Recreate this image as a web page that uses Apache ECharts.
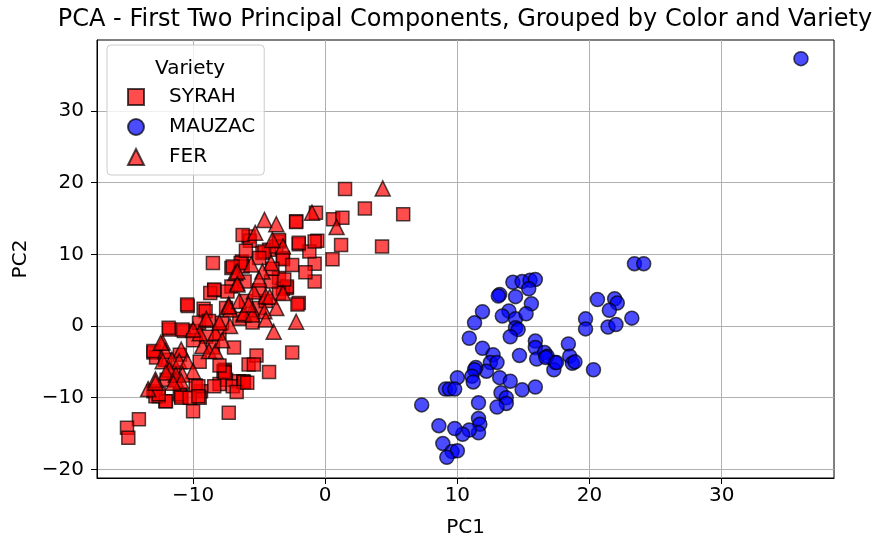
<!DOCTYPE html>
<html>
<head>
<meta charset="utf-8">
<script src="https://cdn.jsdelivr.net/npm/echarts@6/dist/echarts.min.js"></script>
<style>
html,body{margin:0;padding:0;background:#fff;}
#chart{width:875px;height:541px;}
</style>
</head>
<body>
<div id="chart"></div>
<script>
// PCA scores (PC1, PC2) per variety
const syrah = [
  [1.5,19.1],[3.0,16.4],[5.9,15.6],[0.6,14.9],[1.3,15.1],[-0.7,15.8],[-2.2,14.6],[1.2,11.3],[4.3,11.1],
  [-0.6,11.9],[0.55,9.3],[-0.8,8.7],[-0.8,6.2],[-2.0,3.2],[-5.8,12.5],[-5.7,11.9],[-3.5,11.8],[-2.0,11.4],
  [-1.2,10.4],[-3.2,9.5],[-4.25,10.65],[-4.75,10.2],[-6.3,9.0],[-3.5,6.7],[-2.9,5.3],[-3.2,5.2],[-8.5,8.8],
  [-8.4,5.0],[-7.1,8.1],[-6.25,8.3],[-6.25,12.7],[-7.1,5.5],[-10.4,2.8],[-9.2,2.4],[-11.8,-0.5],[-10.7,-0.7],
  [-9.8,-0.7],[-13.0,-3.7],[-12.8,-4.4],[-12.1,-4.7],[-7.6,-6.1],[-7.5,-7.5],[-8.0,-8.1],[-8.4,-8.4],
  [-9.4,-9.1],[-10.9,-9.8],[-12.1,-10.5],[-12.6,-9.8],[-9.5,-10.0],[-10.0,-11.9],[-7.3,-12.1],[-14.1,-13.0],
  [-15.0,-14.2],[-14.9,-15.6],[-9.8,-8.3],[-6.55,-7.7],[-8.7,4.6],[-7.4,4.8],[-10.45,3.0],[-9.05,2.05],
  [-11.85,-0.25],[-10.8,-0.5],[-9.55,0.45],[-8.8,0.7],[-7.8,0.45],[-13.0,-3.5],[-6.9,-3.0],[-5.8,-5.35],
  [-7.7,-6.3],[-7.0,-8.4],[-6.2,-7.7],[-9.6,-8.4],[-11.0,-9.5],[-13.0,-9.1],[-12.85,-9.8],[-2.1,3.0],
  [-2.9,5.5],[-3.5,4.6],[-4.1,6.2],[-6.1,6.2],[-6.4,8.8],[-2.5,-3.7],[-5.2,-4.1],[-5.4,-5.35],[-4.25,-6.4],
  [-6.15,-7.8],[-6.7,-9.2],[-2.2,14.5],[-2.0,11.6],[-0.8,11.8],[-4.6,10.4],[-3.7,11.1],[-3.5,12.0],
  [-7.0,8.3],[-3.2,9.3],[-8.4,5.1],[-3.1,6.5],[-10.9,-10.0],[-12.05,-10.5],[-10.25,-10.0],[-9.6,-9.8],
  [-7.6,-6.5],[-5.9,-7.9],[-12.6,-9.5],[-6.0,3.5],[-5.0,2.5],[-4.5,3.5],[-6.5,1.0],[-5.5,0.5],[-7.5,2.5],
  [-8.0,-1.0],[-9.0,-1.5],[-8.5,-3.0],[-10.0,-2.0],[-11.0,-4.0],[-9.5,-5.0],[-8.0,-5.5],[-11.5,-6.5],
  [-12.0,-7.5],[-5.0,5.0],[-4.0,8.0],[-5.0,9.5],[-6.0,10.5],[-2.5,8.5],[-1.5,7.5]
];
const mauzac = [
  [14.2,6.1],[14.9,6.2],[15.5,6.4],[15.9,6.5],[15.4,5.2],[13.2,4.4],[13.1,4.2],[14.4,4.1],[15.6,3.1],
  [11.9,2.0],[13.9,2.1],[13.4,1.4],[14.4,1.0],[15.2,1.7],[11.3,0.45],[14.4,-0.25],[14.6,-0.5],[14.0,-1.5],
  [10.9,-1.7],[15.9,-2.1],[15.9,-3.0],[11.9,-3.1],[12.7,-4.0],[14.7,-4.1],[16.0,-4.6],[16.6,-3.7],
  [16.8,-4.2],[17.4,-5.1],[17.3,-6.1],[12.5,-5.1],[13.0,-5.1],[12.2,-6.3],[11.4,-5.8],[11.3,-6.1],
  [11.1,-7.0],[11.2,-7.8],[10.0,-7.2],[9.1,-8.8],[9.4,-8.8],[9.8,-8.8],[13.2,-7.2],[14.0,-7.7],[14.9,-8.9],
  [15.9,-8.5],[13.3,-9.3],[13.7,-10.0],[13.7,-10.8],[13.0,-11.3],[7.3,-11.0],[11.6,-10.7],[11.6,-12.9],
  [11.7,-13.7],[11.6,-14.9],[10.9,-14.5],[10.4,-15.1],[9.8,-14.3],[8.6,-13.9],[8.9,-16.4],[9.6,-17.5],
  [10.0,-17.4],[9.2,-18.3],[23.4,8.7],[24.1,8.7],[20.6,3.7],[21.9,3.8],[22.1,3.2],[21.5,2.2],[23.2,1.1],
  [19.7,1.0],[19.7,-0.4],[21.4,-0.15],[22.0,0.2],[18.4,-2.5],[16.7,-4.4],[17.5,-5.1],[18.5,-4.2],
  [18.7,-5.2],[18.9,-5.0],[20.3,-6.1],[36.0,37.3]
];
const fer = [
  [4.35,19.2],[-1.0,15.8],[-4.6,14.8],[-3.7,14.2],[0.86,13.8],[-3.2,11.1],[-4.1,8.8],[-5.6,8.6],[-4.75,7.6],
  [-5.4,4.8],[-3.2,4.6],[-4.5,4.15],[-6.8,7.4],[-6.65,6.0],[-6.65,7.6],[-6.65,5.8],[-7.3,3.0],[-12.3,-2.3],
  [-10.9,-3.3],[-12.1,-3.5],[-11.6,-4.7],[-13.4,-8.8],[-12.45,-2.35],[-9.3,-2.8],[-8.8,-3.5],[-8.3,-3.5],
  [-12.3,-4.9],[-11.05,-4.9],[-10.45,-4.9],[-11.8,-6.05],[-10.0,-6.3],[-12.85,-7.45],[-11.3,-7.45],
  [-10.8,-6.75],[-8.3,-0.95],[-7.2,2.3],[-7.2,0.0],[-6.2,1.6],[-5.5,2.3],[-2.2,0.6],[-3.9,-0.8],[-4.2,4.1],
  [-3.7,2.5],[-4.6,2.05],[-6.15,1.8],[-5.5,1.6],[-4.5,0.9],[-12.05,-6.5],[-11.3,-6.8],[-10.9,-7.7],
  [-11.5,-7.9],[-12.85,-7.9],[-7.3,2.75],[-6.5,3.5],[-5.8,3.0],[-9.0,1.0],[-8.0,0.5],[-9.5,-1.0],
  [-7.8,-2.0],[-10.0,-0.5],[-5.0,6.5],[-4.0,12.0],[-5.3,13.0]
];
const tickValuesX = [-10, 0, 10, 20, 30];
const tickValuesY = [-20, -10, 0, 10, 20, 30];

const FONT = 'DejaVu Sans';
const fmt = v => String(v).replace('-', '\u2212');

function axisCommon(name, ticks, nameGap, rotate, labelMargin) {
  return {
    type: 'value',
    name: name,
    nameLocation: 'middle',
    nameGap: nameGap,
    nameRotate: rotate,
    nameTextStyle: { fontFamily: FONT, fontSize: 20, color: '#000' },
    axisLine: { show: true, onZero: false, lineStyle: { color: '#000', width: 1 } },
    axisTick: { show: true, inside: false, length: 6, customValues: ticks, lineStyle: { color: '#000' } },
    axisLabel: { customValues: ticks, formatter: fmt, fontFamily: FONT, fontSize: 20, color: '#000', margin: labelMargin },
    splitLine: { show: true, lineStyle: { color: '#b0b0b0', width: 1 } }
  };
}

function scatter(name, data, symbol, size, color) {
  return {
    name: name,
    type: 'scatter',
    data: data,
    symbol: symbol,
    symbolSize: size,
    itemStyle: { color: color, opacity: 0.7, borderColor: '#000', borderWidth: 1.5 },
    emphasis: { disabled: true }
  };
}

const chart = echarts.init(document.getElementById('chart'), null, { renderer: 'canvas' });
chart.setOption({
  animation: false,
  backgroundColor: '#fff',
  title: [
    { text: 'PCA - First Two Principal Components, Grouped by Color and Variety', left: 460, top: 3,
      textAlign: 'center', textStyle: { fontFamily: FONT, fontSize: 24, fontWeight: 'normal', color: '#000' } },
    { text: 'Variety', left: 150, top: 54,
      textStyle: { fontFamily: FONT, fontSize: 20, fontWeight: 'normal', color: '#000' } }
  ],
  grid: { left: 97, right: 41, top: 40, bottom: 63, show: true, borderColor: '#000', borderWidth: 1,
          containLabel: false, outerBoundsMode: 'none' },
  xAxis: Object.assign(axisCommon('PC1', tickValuesX, 40, 0, 8), { min: -17.27, max: 38.5 }),
  yAxis: Object.assign(axisCommon('PC2', tickValuesY, 66, 90, 13), { min: -21.2, max: 39.9 }),
  legend: {
    orient: 'vertical', left: 107, top: 45,
    padding: [42, 9, 8, 20],
    itemWidth: 16, itemHeight: 16, itemGap: 10,
    backgroundColor: 'rgba(255,255,255,0.8)',
    borderColor: '#cccccc', borderWidth: 1, borderRadius: 4,
    textStyle: { fontFamily: FONT, fontSize: 20, color: '#000', padding: [0, 0, 0, 20] },
    data: [
      { name: 'SYRAH', icon: 'rect' },
      { name: 'MAUZAC', icon: 'circle' },
      { name: 'FER', icon: 'triangle' }
    ]
  },
  series: [
    scatter('SYRAH', syrah, 'rect', 13, 'rgb(255,0,0)'),
    scatter('MAUZAC', mauzac, 'circle', 14, 'rgb(0,0,255)'),
    scatter('FER', fer, 'triangle', 15, 'rgb(255,0,0)')
  ]
});
</script>
</body>
</html>
